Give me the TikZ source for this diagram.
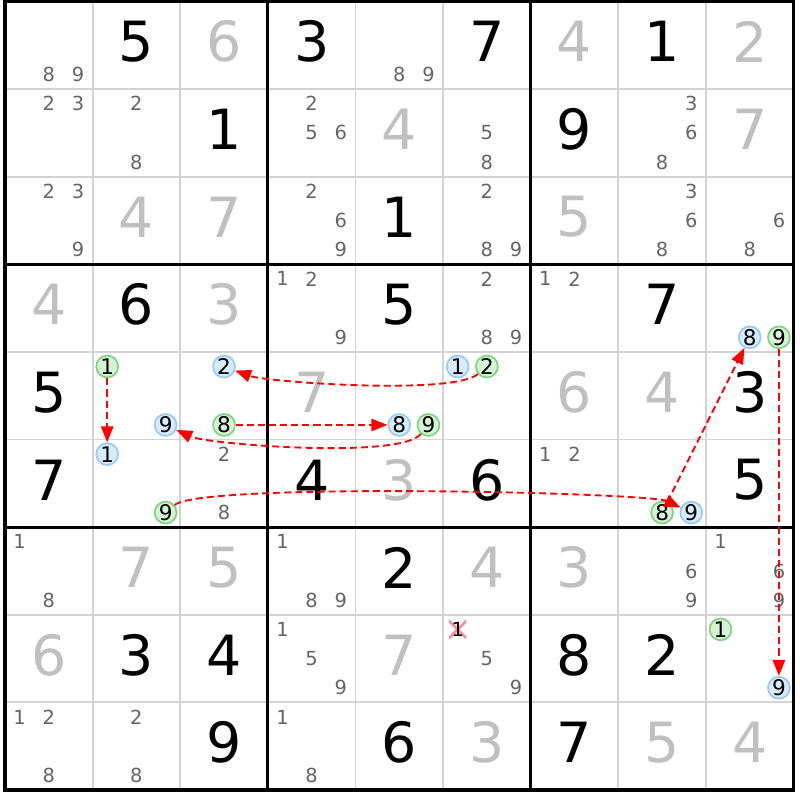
\documentclass[tikz,border=0pt]{standalone}
\usepackage{fontspec}
\setmainfont{DejaVu Sans}
\usetikzlibrary{arrows.meta}
\definecolor{thingrid}{HTML}{D3D3D3}
\definecolor{solvedgray}{HTML}{C0C0C0}
\definecolor{candgray}{HTML}{646464}
\definecolor{onfill}{HTML}{D7F3D7}
\definecolor{ondraw}{HTML}{7CD47C}
\definecolor{offfill}{HTML}{D7EBFA}
\definecolor{offdraw}{HTML}{96C8FA}
\definecolor{strikepink}{HTML}{F4909C}
\tikzset{
	given/.style={text=black,inner sep=0pt,font=\fontsize{18}{18}\selectfont},
	solved/.style={text=solvedgray,inner sep=0pt,font=\fontsize{18}{18}\selectfont},
	cand/.style={text=candgray,inner sep=0pt,font=\fontsize{6.3}{6.3}\selectfont},
	oncand/.style={circle,draw=ondraw,fill=onfill,line width=0.55pt,inner sep=0pt,minimum size=0.25cm,font=\fontsize{7}{7}\selectfont},
	offcand/.style={circle,draw=offdraw,fill=offfill,line width=0.55pt,inner sep=0pt,minimum size=0.25cm,font=\fontsize{7}{7}\selectfont},
	struck/.style={cand,text=black,minimum size=0.2cm,path picture={\draw[strikepink,line width=0.9pt] (path picture bounding box.south west) -- (path picture bounding box.north east) (path picture bounding box.north west) -- (path picture bounding box.south east);}},
	link/.style={red,line width=0.6pt,dash pattern=on 2.3pt off 1.3pt,-{Triangle[length=5.2pt,width=4pt]}}
}
\begin{document}
\begin{tikzpicture}
\useasboundingbox (-0.057,-0.114) rectangle (9.074,9.017);
% grid
\foreach \i in {1,2,4,5,7,8}
	\draw[thingrid,line width=0.6pt] (\i,0) -- (\i,9) (0,\i) -- (9,\i);
\draw[line width=1pt] (3,0) -- (3,9) (6,0) -- (6,9) (0,3) -- (9,3) (0,6) -- (9,6);
\draw[line width=1pt] (0,0) rectangle (9,9);

% givens and solved cells
\foreach \r/\c/\d in {1/2/5,1/4/3,1/6/7,1/8/1,2/3/1,2/7/9,3/5/1,4/2/6,4/5/5,4/8/7,
		5/1/5,5/9/3,6/1/7,6/4/4,6/6/6,6/9/5,7/5/2,8/2/3,8/3/4,8/7/8,8/8/2,9/3/9,9/5/6,9/7/7}
	\node[given] (g\r\c) at (\c-0.5,9.54-\r) {\d};
\foreach \r/\c/\d in {1/3/6,1/7/4,1/9/2,2/5/4,2/9/7,3/2/4,3/3/7,3/7/5,4/1/4,4/3/3,
		5/4/7,5/7/6,5/8/4,6/5/3,7/2/7,7/3/5,7/6/4,7/7/3,8/1/6,8/5/7,9/6/3,9/8/5,9/9/4}
	\node[solved] (s\r\c) at (\c-0.5,9.54-\r) {\d};

% candidates
\foreach \r/\c/\d/\s in {1/1/8/cand,1/1/9/cand,1/5/8/cand,1/5/9/cand,
		2/1/2/cand,2/1/3/cand,2/2/2/cand,2/2/8/cand,2/4/2/cand,2/4/5/cand,2/4/6/cand,
		2/6/5/cand,2/6/8/cand,2/8/3/cand,2/8/6/cand,2/8/8/cand,
		3/1/2/cand,3/1/3/cand,3/1/9/cand,3/4/2/cand,3/4/6/cand,3/4/9/cand,
		3/6/2/cand,3/6/8/cand,3/6/9/cand,3/8/3/cand,3/8/6/cand,3/8/8/cand,3/9/6/cand,3/9/8/cand,
		4/4/1/cand,4/4/2/cand,4/4/9/cand,4/6/2/cand,4/6/8/cand,4/6/9/cand,4/7/1/cand,4/7/2/cand,
		4/9/8/offcand,4/9/9/oncand,
		5/2/1/oncand,5/2/9/offcand,5/3/2/offcand,5/3/8/oncand,5/5/8/offcand,5/5/9/oncand,
		5/6/1/offcand,5/6/2/oncand,
		6/2/1/offcand,6/2/9/oncand,6/3/2/cand,6/3/8/cand,6/7/1/cand,6/7/2/cand,
		6/8/8/oncand,6/8/9/offcand,
		7/1/1/cand,7/1/8/cand,7/4/1/cand,7/4/8/cand,7/4/9/cand,7/8/6/cand,7/8/9/cand,
		7/9/1/cand,7/9/6/cand,7/9/9/cand,
		8/4/1/cand,8/4/5/cand,8/4/9/cand,8/6/1/struck,8/6/5/cand,8/6/9/cand,
		8/9/1/oncand,8/9/9/offcand,
		9/1/1/cand,9/1/2/cand,9/1/8/cand,9/2/2/cand,9/2/8/cand,9/4/1/cand,9/4/8/cand}
	\node[\s] (n\r\c\d) at ({\c-1+(2*mod(\d-1,3)+1)/6},{10-\r-(2*div(\d-1,3)+1)/6}) {\d};

% chain
\draw[link] (n521) -- (n621);
\draw[link] (n562) to[out=220,in=-20,looseness=0.35] (n532);
\draw[link] (n538) -- (n558);
\draw[link] (n559) to[out=230,in=-25,looseness=0.35] (n529);
\draw[link] (n629) to[out=40,in=155,looseness=0.18] (n689);
\draw[link] (n688) -- (n498);
\draw[link] (n499) -- (n899);
\end{tikzpicture}
\end{document}
